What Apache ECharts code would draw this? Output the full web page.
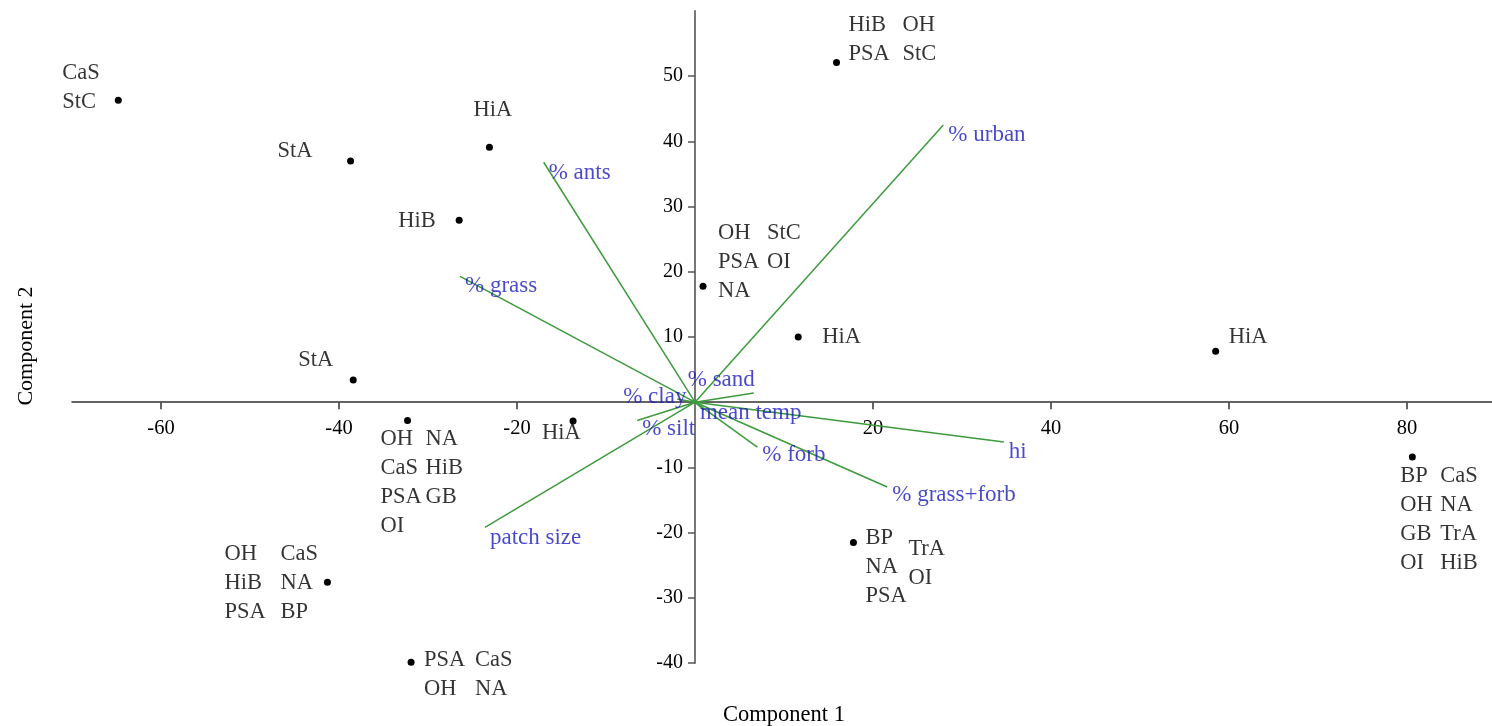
<!DOCTYPE html>
<html>
<head>
<meta charset="utf-8">
<script src="https://cdn.jsdelivr.net/npm/echarts@6/dist/echarts.min.js"></script>
<style>
  html, body { margin: 0; padding: 0; background: #fff; }
  #chart { width: 1492px; height: 726px; }
</style>
</head>
<body>
<div id="chart"></div>
<script>
// site scores (component 1, component 2)
const pcX = [-64.8, -38.7, -23.1, -26.5, -38.4, -32.3, -13.7, -41.3, -31.9, 15.9, 0.9, 11.6, 58.5, 80.6, 17.8];
const pcY = [46.3, 37.0, 39.1, 27.9, 3.4, -2.8, -2.9, -27.6, -39.9, 52.1, 17.8, 10.0, 7.8, -8.4, -21.5];
// species codes next to each site, one string per text column
const siteCodes = [
    ['CaS\nStC'],
    ['StA'],
    ['HiA'],
    ['HiB'],
    ['StA'],
    ['OH\nCaS\nPSA\nOI', 'NA\nHiB\nGB'],
    ['HiA'],
    ['OH\nHiB\nPSA', 'CaS\nNA\nBP'],
    ['PSA\nOH', 'CaS\nNA'],
    ['HiB\nPSA', 'OH\nStC'],
    ['OH\nPSA\nNA', 'StC\nOI'],
    ['HiA'],
    ['HiA'],
    ['BP\nOH\nGB\nOI', 'CaS\nNA\nTrA\nHiB'],
    ['BP\nNA\nPSA', 'TrA\nOI']
];

// environmental vectors
const vecNames = ['% urban', '% ants', '% grass', '% sand', '% clay', 'mean temp', '% silt', '% forb', '% grass+forb', 'hi', 'patch size'];
const vecX = [27.9, -17.0, -26.4, 6.6, -2.0, 1.0, -6.5, 7.0, 21.6, 34.7, -23.6];
const vecY = [42.5, 36.8, 19.3, 1.4, 0.5, -1.2, -2.8, -6.9, -13.0, -6.1, -19.2];

const xTicks = [-60, -40, -20, 20, 40, 60, 80];
const yTicks = [-40, -30, -20, -10, 10, 20, 30, 40, 50];

// label placement (pixel offset of each column's left edge / first line centre)
const codeOffsets = [
    [[-56, -27]],
    [[-73, -10]],
    [[-16, -37]],
    [[-61, 1]],
    [[-55, -20]],
    [[-27, 19], [18, 19]],
    [[-31, 12]],
    [[-103, -28], [-47, -28]],
    [[13, -2], [64, -2]],
    [[12, -37], [66, -37]],
    [[15, -53], [64, -53]],
    [[24, 0]],
    [[13, -14]],
    [[-12, 19], [28, 19]],
    [[12, -4], [55, 7]]
];
const vecOffsets = [[5, 10], [5, 11], [5, 10], [-66, -13], [-54, -2], [-4, 3], [5, 8], [5, 8], [5, 8], [5, 10], [5, 11]];

const serif = '"Liberation Serif", "Times New Roman", serif';
const lineH = 29;

const codeData = [];
siteCodes.forEach((cols, i) => {
    cols.forEach((txt, j) => {
        const off = codeOffsets[i][j];
        codeData.push({
            value: [pcX[i], pcY[i]],
            label: { formatter: txt, position: [off[0], off[1] - lineH / 2] }
        });
    });
});

// grid is 1424 x 652 px; axes are pulled in to cross at the origin
const gridW = 1424, gridH = 652;
const xMin = -70, xMax = 90, yMin = -40, yMax = 60;

const chart = echarts.init(document.getElementById('chart'));
chart.setOption({
    animation: false,
    grid: { left: 72, top: 11, width: gridW, height: gridH, outerBoundsMode: 'none', containLabel: false },
    xAxis: {
        type: 'value',
        min: xMin,
        max: xMax,
        position: 'bottom',
        offset: -gridH * (0 - yMin) / (yMax - yMin),
        name: 'Component 1',
        nameLocation: 'middle',
        nameGap: 301,
        nameTextStyle: { fontFamily: serif, fontSize: 22.5, color: '#000', verticalAlign: 'top' },
        splitLine: { show: false },
        axisLine: { onZero: false, lineStyle: { color: '#333', width: 1.5 } },
        axisTick: { customValues: xTicks, length: 7, lineStyle: { color: '#333', width: 1.5 } },
        axisLabel: { customValues: xTicks, margin: 16, fontFamily: serif, fontSize: 20.5, color: '#000' }
    },
    yAxis: {
        type: 'value',
        min: yMin,
        max: yMax,
        position: 'left',
        offset: -gridW * (0 - xMin) / (xMax - xMin),
        name: 'Component 2',
        nameLocation: 'middle',
        nameGap: 658,
        nameTextStyle: { fontFamily: serif, fontSize: 22, color: '#000', padding: [0, 18, 0, 0] },
        splitLine: { show: false },
        axisLine: { onZero: false, lineStyle: { color: '#777', width: 2 } },
        axisTick: { customValues: yTicks, length: 7, lineStyle: { color: '#555', width: 1.5 } },
        axisLabel: { customValues: yTicks, margin: 12, fontFamily: serif, fontSize: 20, color: '#000' }
    },
    series: [
        {
            type: 'lines',
            coordinateSystem: 'cartesian2d',
            silent: true,
            lineStyle: { color: '#3d9a3d', width: 1.5, opacity: 1 },
            data: vecNames.map((n, i) => ({ coords: [[0, 0], [vecX[i], vecY[i]]] }))
        },
        {
            type: 'scatter',
            symbolSize: 0,
            silent: true,
            data: vecNames.map((n, i) => ({
                value: [vecX[i], vecY[i]],
                label: { formatter: n, position: vecOffsets[i] }
            })),
            label: {
                show: true,
                align: 'left',
                verticalAlign: 'middle',
                fontFamily: serif,
                fontSize: 23,
                color: '#1a1ac0'
            }
        },
        {
            type: 'scatter',
            symbolSize: 7,
            itemStyle: { color: '#000', opacity: 1 },
            data: pcX.map((x, i) => [x, pcY[i]])
        },
        {
            type: 'scatter',
            symbolSize: 0,
            silent: true,
            data: codeData,
            label: {
                show: true,
                align: 'left',
                verticalAlign: 'top',
                lineHeight: lineH,
                fontFamily: serif,
                fontSize: 22.5,
                color: '#000'
            }
        }
    ]
});
</script>
</body>
</html>
